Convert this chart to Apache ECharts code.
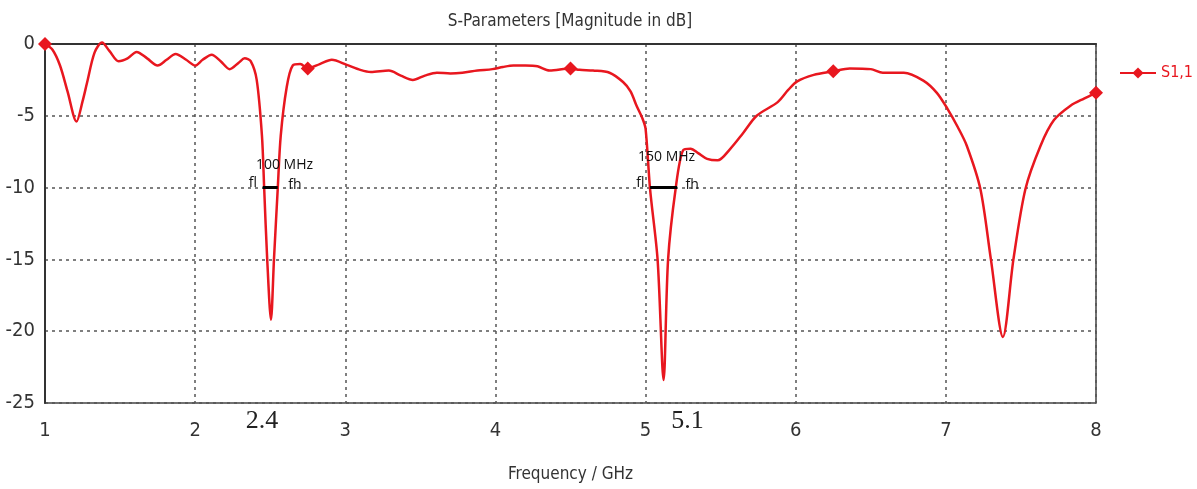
<!DOCTYPE html>
<html><head><meta charset="utf-8">
<script src="https://cdn.jsdelivr.net/npm/echarts@6/dist/echarts.min.js"></script>
<style>html,body{margin:0;padding:0;background:#fff}#c{width:1197px;height:489px}</style>
</head><body><div id="c"></div>
<script>
const freqs = [1.00,1.05,1.10,1.15,1.21,1.25,1.28,1.33,1.38,1.43,1.49,1.55,1.61,1.68,1.75,1.81,1.87,1.94,2.00,2.05,2.11,2.17,2.23,2.29,2.33,2.37,2.41,2.445,2.46,2.48,2.505,2.525,2.55,2.57,2.61,2.65,2.70,2.75,2.83,2.91,3.01,3.10,3.17,3.29,3.37,3.45,3.53,3.61,3.70,3.78,3.88,3.98,4.05,4.12,4.20,4.28,4.36,4.50,4.56,4.65,4.76,4.85,4.90,4.94,4.98,5.00,5.03,5.08,5.12,5.15,5.20,5.25,5.30,5.35,5.41,5.48,5.56,5.65,5.74,5.88,5.95,6.01,6.12,6.25,6.36,6.50,6.58,6.72,6.85,6.94,7.01,7.08,7.14,7.23,7.30,7.38,7.45,7.53,7.63,7.72,7.83,7.92,8.00];
const s11 = [0,-0.4,-1.5,-3.3,-5.4,-4.0,-2.7,-0.6,0.1,-0.5,-1.2,-1.0,-0.55,-1.0,-1.5,-1.1,-0.7,-1.1,-1.5,-1.1,-0.75,-1.2,-1.75,-1.3,-1.0,-1.2,-2.5,-6.4,-10.1,-15,-19.2,-15,-10.1,-6.4,-3.0,-1.5,-1.4,-1.7,-1.4,-1.1,-1.45,-1.8,-1.95,-1.85,-2.2,-2.5,-2.2,-2.0,-2.05,-2.0,-1.85,-1.75,-1.6,-1.5,-1.5,-1.55,-1.85,-1.7,-1.8,-1.85,-2.0,-2.65,-3.3,-4.3,-5.2,-5.9,-10.1,-15,-23.4,-15,-10.1,-7.4,-7.3,-7.6,-8.0,-8.1,-7.35,-6.2,-5.0,-4.05,-3.2,-2.6,-2.15,-1.9,-1.7,-1.75,-2.0,-2.0,-2.55,-3.4,-4.5,-5.8,-7.1,-10.1,-15,-20.4,-15,-10.1,-7.1,-5.3,-4.3,-3.8,-3.4];
const markerFreqs = [1.00, 2.75, 4.50, 6.25, 8.00];
const xTicks = [1,2,3,4,5,6,7,8];
const yTicks = [0,-5,-10,-15,-20,-25];
// annotations: bandwidth bars and labels
const band1 = {fl:2.45, fh:2.55, level:-10, text:'100 MHz', textAt:[2.595,-8.45], flAt:[2.385,-9.7], fhAt:[2.665,-9.8], name:'2.4', nameAt:[2.445,-26.3]};
const band2 = {fl:5.03, fh:5.21, level:-10, text:'150 MHz', textAt:[5.14,-7.85], flAt:[4.965,-9.7], fhAt:[5.31,-9.8], name:'5.1', nameAt:[5.28,-26.3]};
const bands = [band1, band2];

const narrow = "'Liberation Sans Narrow','DejaVu Sans Condensed',sans-serif";
const red = '#e8171f';

const lineData = freqs.map((f,i)=>{
  const isM = markerFreqs.some(m=>Math.abs(m-f)<1e-6);
  return isM ? {value:[f,s11[i]], symbol:'diamond', symbolSize:14} : {value:[f,s11[i]], symbol:'none'};
});

const chart = echarts.init(document.getElementById('c'));
chart.setOption({
  animation:false,
  title:{text:'S-Parameters [Magnitude in dB]', left:565, top:8, textAlign:'center',
    textStyle:{fontFamily:narrow, fontSize:17, fontWeight:'normal', color:'#333'}},
  legend:{data:['S1,1'], left:1114, top:60, itemWidth:36, itemHeight:14, itemGap:4,
    textStyle:{fontFamily:narrow, fontSize:16, color:red}},
  grid:{left:45, right:101, top:44, bottom:86, show:true, borderColor:'#444', borderWidth:1.5},
  xAxis:{type:'value', min:1, max:8, interval:1,
    name:'Frequency / GHz', nameLocation:'middle', nameGap:63,
    nameTextStyle:{fontFamily:narrow, fontSize:17, color:'#333'},
    axisLine:{lineStyle:{color:'#333', width:2}},
    axisTick:{show:false},
    axisLabel:{fontFamily:narrow, fontSize:20, color:'#333', margin:18},
    splitLine:{show:true, lineStyle:{color:'#555', type:[3,4], width:1.5}}},
  yAxis:{type:'value', min:-25, max:0, interval:5,
    axisLine:{show:true, lineStyle:{color:'#333', width:2}},
    axisTick:{show:false},
    axisLabel:{fontFamily:narrow, fontSize:20, color:'#333', margin:10},
    splitLine:{show:true, lineStyle:{color:'#555', type:[3,4], width:1.5}}},
  series:[
    {name:'S1,1', type:'line', data:lineData, symbol:'diamond', symbolSize:14, smooth:0.3,
      lineStyle:{color:red, width:2.5}, itemStyle:{color:red}, clip:false, z:3},
    {name:'annot', type:'line', data:[], silent:true, z:5,
      markLine:{symbol:'none', silent:true, label:{show:false},
        lineStyle:{color:'#000', width:3, type:'solid'},
        data:bands.map(b=>[{coord:[b.fl,b.level]},{coord:[b.fh,b.level]}])}}
  ]
});
const sansAnn = "'Open Sans',sans-serif";
const g = [];
bands.forEach(b=>{
  [[b.textAt,b.text],[b.flAt,'fl'],[b.fhAt,'fh']].forEach(([at,t])=>{
    const p = chart.convertToPixel({gridIndex:0}, at);
    g.push({type:'text', x:p[0], y:p[1], z:10, style:{text:t, fill:'#111', font:'14px '+sansAnn, align:'center', verticalAlign:'middle'}});
  });
  const q = chart.convertToPixel({gridIndex:0}, b.nameAt);
  g.push({type:'text', x:q[0], y:q[1], z:10, style:{text:b.name, fill:'#222', font:"26px 'Liberation Serif',serif", align:'center', verticalAlign:'middle'}});
});
chart.setOption({graphic:g});
</script></body></html>
